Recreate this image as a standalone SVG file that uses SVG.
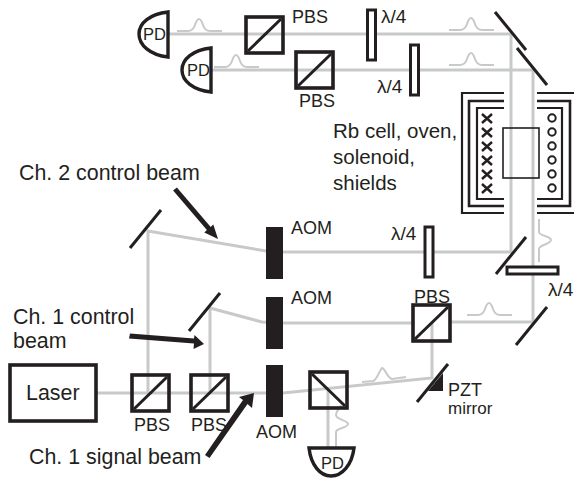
<svg xmlns="http://www.w3.org/2000/svg" width="574" height="479" viewBox="0 0 574 479">
<style>
text{font-family:"Liberation Sans",Arial,sans-serif;font-size:21.400px;fill:#231f20}
.t{font-size:18px}
.d{font-size:16.500px}
.l{font-size:19px}
.b{fill:none;stroke:#c8c9ca;stroke-width:3}
.p{fill:none;stroke:#c8c9ca;stroke-width:2}
.m{fill:none;stroke:#231f20;stroke-width:3}
.c{fill:#fff;fill-opacity:0;stroke:#231f20;stroke-width:3.6}
.s{fill:none;stroke:#231f20;stroke-width:2.2}
.w{fill:#fff;stroke:#231f20;stroke-width:3}
.a{fill:#231f20}
.x{fill:none;stroke:#231f20;stroke-width:2.4}
</style>
<defs>
<path id="pulse" class="p" d="M0 0H11C15 0 17 -3 18 -6C19 -9 20 -12 22 -12C24 -12 25 -9 26 -6C27 -3 29 0 33 0H45"/>
</defs>
<g id="connectors">
<path class="b" d="M168 34H511V252H283L266 251L148 231V393"/>
<path class="b" d="M211 70H533V322H450"/>
<path class="b" d="M97 393H283L432 378V322"/>
<path class="b" d="M412 323H283L262 322L210 308V393"/>
<path class="b" d="M328 388V448"/>
<use href="#pulse" x="177" y="31"/>
<use href="#pulse" x="214" y="67"/>
<use href="#pulse" x="449" y="30"/>
<use href="#pulse" x="449" y="65"/>
<use href="#pulse" x="467" y="315"/>
<path class="p" d="M362 382L373 381C377 380 379 371 382 368C385 368 387 378 392 379L406 377"/>
<path class="p" d="M539 219V232C539 236 551 236 551 240C551 244 539 245 539 249V262"/>
<path class="p" d="M336 448V432C336 428 348 428 348 424C348 420 336 420 336 415C336 411 340 408 341 405"/>
</g>
<g id="pd1"><path class="m" d="M168 12V57C150 55 139 45 139 34C139 23 150 14 168 12Z" style="stroke-width:3.4"/><text class="d" x="143" y="40">PD</text></g>
<g id="pd2"><path class="m" d="M211 48V92C193 90 182 81 182 70C182 59 193 50 211 48Z" style="stroke-width:3.4"/><text class="d" x="187" y="76">PD</text></g>
<g id="pd3"><path class="m" d="M309 448H354C352 465 342 476 331 476C320 476 311 465 309 448Z" style="stroke-width:3.4"/><text class="d" x="321" y="469">PD</text></g>
<g id="pbs-top1"><rect class="c" x="246" y="17" width="37" height="36"/><path class="m" d="M248 51L281 19"/><text class="t" x="292" y="23">PBS</text></g>
<g id="pbs-top2"><rect class="c" x="296" y="52" width="37" height="36"/><path class="m" d="M298 86L331 54"/><text class="t" x="299" y="107">PBS</text></g>
<g id="wp1"><rect class="w" x="367.500" y="10" width="8" height="50"/><text class="l" x="381" y="23">λ/4</text></g>
<g id="wp2"><rect class="w" x="410.500" y="45" width="8" height="50"/><text class="l" x="377" y="93">λ/4</text></g>
<g id="mirrors">
<path class="m" d="M495 12L526 50"/><path class="m" d="M517 48L547 85"/>
<path class="m" d="M496 274L526 237"/><path class="m" d="M516 345L547 307"/>
<path class="m" d="M130 248L161 210"/><path class="m" d="M189 331L220 293"/>
</g>
<g id="rb-cell">
<path class="s" d="M504 93H462V213H504M537 93H574M537 213H574"/>
<path class="s" style="stroke-width:2.6" d="M504 101H469V206H504M537 101H570V206H537"/>
<path class="s" d="M504 108H477V199H504M537 108H562V199H537"/>
<rect class="s" style="stroke-width:1.6" x="503" y="128" width="36" height="50"/>
<path class="x" d="M482 114l10 9m0 -9l-10 9M482 128l10 9m0 -9l-10 9M482 142l10 9m0 -9l-10 9M482 156l10 9m0 -9l-10 9M482 170l10 9m0 -9l-10 9M482 184l10 9m0 -9l-10 9"/>
<g fill="none" stroke="#231f20" stroke-width="2"><circle cx="552" cy="118" r="3.700"/><circle cx="552" cy="132" r="3.700"/><circle cx="552" cy="146" r="3.700"/><circle cx="552" cy="160" r="3.700"/><circle cx="552" cy="174" r="3.700"/><circle cx="552" cy="188" r="3.700"/></g>
<text style="font-size:20.500px" x="333" y="138">Rb cell, oven,</text><text style="font-size:20.500px" x="333" y="164">solenoid,</text><text style="font-size:20.500px" x="333" y="190">shields</text>
</g>
<g id="wp3"><rect class="w" x="425" y="227" width="8" height="50"/><text class="l" x="391" y="240">λ/4</text></g>
<g id="wp4"><rect class="w" x="507" y="267" width="51" height="7"/><text class="l" x="548" y="296">λ/4</text></g>
<g id="pbs-mid"><rect class="c" x="413" y="305" width="37" height="36"/><path class="m" d="M415 339L448 307"/><text class="t" x="414" y="303">PBS</text></g>
<g id="pzt"><path class="m" d="M417 402L448 364"/><path class="a" d="M428 391L443 373V391Z"/><text class="t" x="448" y="396">PZT</text><text style="font-size:17px" x="448" y="414">mirror</text></g>
<g id="pbs-sig"><rect class="c" x="310" y="372" width="37" height="36"/><path class="m" d="M312 374L345 406"/></g>
<g id="aom1"><rect class="a" x="266" y="227" width="17" height="52"/><text class="t" x="291" y="234">AOM</text></g>
<g id="aom2"><rect class="a" x="266" y="297" width="17" height="52"/><text class="t" x="291" y="304">AOM</text></g>
<g id="aom3"><rect class="a" x="266" y="365" width="17" height="52"/><text class="t" x="256" y="438">AOM</text></g>
<g id="laser"><rect class="c" x="10" y="365" width="86" height="56"/><text x="26" y="400">Laser</text></g>
<g id="pbs-a"><rect class="c" x="132" y="375" width="37" height="36"/><path class="m" d="M134 409L167 377"/><text class="t" x="134" y="431">PBS</text></g>
<g id="pbs-b"><rect class="c" x="191" y="375" width="37" height="36"/><path class="m" d="M193 409L226 377"/><text class="t" x="191" y="431">PBS</text></g>
<g id="labels">
<text x="19" y="180">Ch. 2 control beam</text>
<text x="13" y="324">Ch. 1 control</text>
<text x="13" y="348">beam</text>
<text x="29" y="464">Ch. 1 signal beam</text>
<path class="a" d="M176.900 187.400L210.700 226.900L213.300 224.500L218 239L204.300 232.500L206.900 230.100L173.100 190.600Z"/>
<path class="a" d="M130 333.500L194 338.500L194.500 335L204 344L193.500 349L194 343.500L129 338.500Z"/>
<path class="a" d="M205 455L243 400L239 397L254 393L252 408L247.500 404L209.500 458Z"/>
</g>
</svg>
